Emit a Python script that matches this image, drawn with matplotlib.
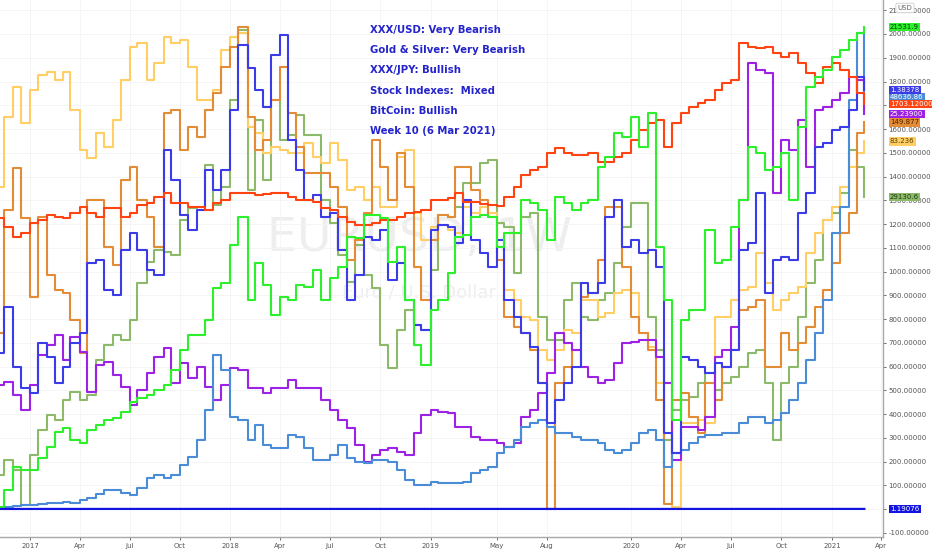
import matplotlib
matplotlib.use("Agg")
import matplotlib.pyplot as plt
import matplotlib.transforms as mtransforms
import pandas as pd

dates = list(pd.date_range("2016-11-01", "2021-02-15", freq="SMS")) + [pd.Timestamp("2021-03-01")]
months = pd.date_range("2016-11-01", "2021-03-01", freq="MS")

# every series except EURUSD is rescaled onto the EURUSD price axis
gbpusd = [657, 850, 598, 509, 488, 699, 640, 530, 598, 699, 741, 1036, 1048, 922,
          901, 1090, 1162, 1090, 1006, 985, 1511, 1385, 1238, 1175, 1259, 1427, 1343, 1427,
          1680, 1953, 1857, 1764, 1692, 1911, 1996, 1553, 1427, 1301, 1322, 1229,
          1246, 1090, 880, 985, 1145, 1132, 1175, 964, 1036, 880, 775, 754, 1175, 1196,
          1187, 1120, 1301, 1132, 1078, 1019, 1132, 880, 808, 741, 682, 530, 362, 459,
          530, 598, 951, 909, 951, 1229, 1301, 1103, 1132, 1078, 1090, 1019,
          320, 236, 640, 627, 598, 573, 615, 598, 669, 1090, 1120, 1330, 909, 1048,
          1061, 1048, 1246, 1330, 1524, 1541, 1596, 1608, 1680, 1819, 1764]
bitcoin = [4, 8, 13, 17, 17, 21, 25, 25, 29, 25, 38, 46, 63, 80,
           80, 67, 59, 88, 131, 143, 131, 143, 185, 219, 290, 417, 648, 585,
           387, 375, 290, 354, 269, 257, 257, 312, 303, 257, 206, 206,
           227, 269, 215, 198, 194, 206, 206, 198, 164, 122, 101, 101, 114, 109,
           109, 109, 114, 152, 164, 177, 236, 261, 290, 345, 362, 375, 345, 320,
           320, 303, 290, 290, 278, 248, 236, 248, 278, 320, 333, 290,
           177, 236, 248, 278, 303, 312, 312, 320, 320, 362, 387, 387, 362, 375,
           404, 459, 530, 627, 741, 880, 1162, 1271, 1722, 2004, 1735]
gold = [1225, 1187, 1145, 1162, 1204, 1217, 1238, 1229, 1225, 1246, 1271, 1246, 1229, 1267,
        1267, 1229, 1246, 1280, 1288, 1314, 1330, 1288, 1288, 1271, 1271, 1259, 1288, 1301,
        1330, 1330, 1330, 1322, 1326, 1330, 1330, 1314, 1301, 1301, 1292, 1267,
        1259, 1229, 1208, 1196, 1196, 1204, 1217, 1217, 1229, 1246, 1250, 1259, 1301, 1301,
        1309, 1330, 1292, 1292, 1284, 1280, 1276, 1314, 1356, 1406, 1427, 1440, 1499, 1520,
        1499, 1490, 1490, 1499, 1461, 1461, 1482, 1499, 1553, 1596, 1625, 1638,
        1524, 1625, 1667, 1692, 1709, 1722, 1764, 1793, 1806, 1962, 1945, 1941, 1945, 1920,
        1903, 1920, 1878, 1836, 1793, 1861, 1878, 1848, 1819, 1751, 1705]
silver = [522, 535, 480, 417, 522, 648, 690, 733, 627, 724, 661, 493, 606, 619,
          564, 514, 438, 501, 573, 640, 678, 530, 615, 552, 598, 514, 459, 522,
          594, 585, 509, 509, 488, 509, 509, 543, 509, 509, 509, 459,
          417, 375, 341, 269, 198, 227, 248, 257, 240, 227, 320, 396, 417, 408,
          404, 345, 345, 303, 290, 290, 278, 261, 278, 387, 417, 488, 573, 741,
          699, 669, 598, 556, 530, 543, 615, 699, 703, 711, 711, 640,
          530, 206, 345, 345, 333, 387, 640, 669, 766, 1301, 1878, 1848, 1836, 1330,
          1553, 1511, 1638, 1440, 1680, 1692, 1722, 1751, 1819, 1806, 1663]
gbpjpy = [741, 1259, 1436, 1225, 893, 1229, 985, 922, 909, 796, 657, 1301, 1301, 1103,
          1027, 1385, 1440, 1301, 1229, 1103, 1667, 1680, 1511, 1608, 1566, 1680, 1751, 1861,
          1945, 2029, 1650, 1511, 1553, 1722, 1861, 1667, 1524, 1415, 1415, 1415,
          1356, 1271, 1048, 1132, 1246, 1553, 1440, 1301, 1499, 1356, 1019, 880, 1132, 1238,
          1229, 1440, 1440, 1343, 1301, 1229, 1048, 808, 766, 741, 669, 530, 0, 530,
          598, 669, 893, 909, 1048, 1271, 1271, 1019, 808, 741, 669, 459,
          20, 459, 488, 387, 320, 530, 459, 598, 669, 838, 850, 880, 598, 598,
          741, 669, 699, 766, 850, 922, 1036, 1162, 1246, 1583, 1629]
audjpy = [1356, 1650, 1777, 1625, 1764, 1827, 1840, 1806, 1840, 1680, 1511, 1478, 1583, 1524,
          1638, 1806, 1945, 1962, 1806, 1878, 1987, 1962, 1974, 1861, 1722, 1722, 1764, 1932,
          1987, 2004, 1608, 1583, 1499, 1524, 1511, 1499, 1499, 1541, 1482, 1457,
          1541, 1469, 1343, 1356, 1301, 1356, 1271, 1271, 1482, 1511, 1246, 1132, 1187, 1196,
          1175, 1162, 1271, 1246, 1271, 1246, 1048, 922, 880, 808, 796, 669, 627, 669,
          754, 741, 880, 880, 808, 825, 909, 922, 909, 741, 682, 530,
          177, 10, 362, 362, 375, 362, 808, 808, 880, 922, 935, 1078, 951, 838,
          880, 909, 935, 1078, 1162, 1217, 1271, 1356, 1440, 1499, 1549]
china_a50 = [8, 80, 177, 164, 164, 215, 261, 324, 341, 290, 278, 333, 354, 375,
             383, 408, 450, 467, 480, 501, 522, 585, 669, 733, 733, 796, 930, 951,
             1111, 1229, 880, 1036, 943, 817, 893, 880, 943, 935, 1006, 880,
             973, 1019, 1145, 1141, 1238, 1238, 1225, 1040, 1103, 880, 690, 606, 838, 880,
             994, 1145, 1154, 1229, 1238, 1229, 1103, 1162, 1162, 1301, 1288, 1259, 1132, 1314,
             1288, 1259, 1288, 1301, 1440, 1482, 1583, 1566, 1650, 1524, 1667, 1103,
             880, 375, 796, 838, 838, 1175, 1036, 1048, 1187, 1301, 1524, 1499, 1427, 1440,
             1499, 1301, 1608, 1777, 1819, 1848, 1903, 1932, 1974, 2004, 2029]
nikkei = [143, 206, 164, 17, 227, 333, 396, 375, 459, 493, 459, 480, 627, 690,
          733, 711, 796, 951, 1040, 1090, 1082, 1069, 1217, 1267, 1271, 1448, 1280, 1356,
          1722, 2017, 1343, 1638, 1385, 1722, 1553, 1575, 1659, 1575, 1575, 1301,
          1204, 1069, 956, 1111, 985, 930, 690, 594, 754, 838, 775, 754, 1006, 1238,
          1229, 1271, 1372, 1372, 1457, 1469, 1204, 1187, 994, 1229, 1246, 808, 711, 711,
          880, 951, 808, 796, 880, 909, 1036, 1187, 1288, 1288, 808, 669,
          290, 417, 459, 472, 530, 573, 501, 530, 556, 598, 657, 669, 530, 290,
          530, 598, 808, 951, 1048, 1217, 1246, 1330, 1511, 1440, 1314]
eurusd = [1.06, 1.05, 1.08, 1.06, 1.08, 1.09, 1.12, 1.14, 1.18, 1.19, 1.18, 1.16, 1.19, 1.20,
          1.24, 1.22, 1.23, 1.21, 1.17, 1.17, 1.17, 1.16, 1.16, 1.13, 1.13, 1.15,
          1.15, 1.14, 1.12, 1.12, 1.12, 1.14, 1.11, 1.10, 1.09, 1.12, 1.10, 1.12,
          1.11, 1.10, 1.10, 1.09, 1.11, 1.12, 1.18, 1.19, 1.17, 1.16, 1.19, 1.22,
          1.21, 1.21, 1.19]

series = [
    (nikkei, "#8dba6a", "29130.6", "#1e3a10"),
    (audjpy, "#ffcf66", "83.236", "#5a3d00"),
    (gbpjpy, "#e38b35", "149.877", "#4a2400"),
    (silver, "#9d22e6", "25.23900", "white"),
    (bitcoin, "#4a8cd8", "48636.86", "white"),
    (gbpusd, "#3b3be8", "1.38378", "white"),
    (gold, "#ff4411", "1703.12000", "white"),
    (china_a50, "#2bf02b", "21531.9", "#0b3d0b"),
]

x_ticks = ["2017-01-01", "2017-04-01", "2017-07-01", "2017-10-01", "2018-01-01",
           "2018-04-01", "2018-07-01", "2018-10-01", "2019-01-01", "2019-05-01",
           "2019-08-01", "2020-01-01", "2020-04-01", "2020-07-01", "2020-10-01",
           "2021-01-01", "2021-04-01"]
x_labels = ["2017", "Apr", "Jul", "Oct", "2018", "Apr", "Jul", "Oct", "2019", "May",
            "Aug", "2020", "Apr", "Jul", "Oct", "2021", "Apr"]

notes = ["XXX/USD: Very Bearish", "Gold & Silver: Very Bearish", "XXX/JPY: Bullish",
         "Stock Indexes:  Mixed", "BitCoin: Bullish", "Week 10 (6 Mar 2021)"]

fig = plt.figure(figsize=(9.32, 5.5), dpi=100)
ax = fig.add_axes([0, 13 / 550, 883 / 932, 537 / 550])

# watermark
ax.text(0.475, 0.555, "EURUSD, 1W", transform=ax.transAxes, ha="center", va="center",
        fontsize=34, color="#eeeeee", zorder=0)
ax.text(0.475, 0.455, "Euro / U.S. Dollar", transform=ax.transAxes, ha="center", va="center",
        fontsize=13, color="#eeeeee", zorder=0)

for vals, col, lab, tcol in series:
    ax.step(dates, vals, where="post", color=col, lw=1.5, zorder=3)

ax.plot(months, eurusd, color="#1414e0", lw=1.6, zorder=4)

ax.set_xlim(pd.Timestamp("2016-11-07"), pd.Timestamp("2021-04-04"))
ax.set_ylim(-117, 2143)

ax.yaxis.tick_right()
yt = list(range(-100, 2101, 100))
ax.set_yticks(yt)
ax.set_yticklabels([f"{v:.5f}" for v in yt])
ax.set_xticks(pd.to_datetime(x_ticks))
ax.set_xticklabels(x_labels)
ax.tick_params(axis="both", labelsize=5, colors="#555555", length=2, width=0.6, pad=2)
ax.grid(True, color="#f4f4f4", lw=0.6, zorder=0)

for s in ["top", "left"]:
    ax.spines[s].set_visible(False)
for s in ["right", "bottom"]:
    ax.spines[s].set_color("#a8a8a8")
    ax.spines[s].set_linewidth(1.0)

# last value tags on the price scale
trans = mtransforms.blended_transform_factory(ax.transAxes, ax.transData)
for vals, col, lab, tcol in series:
    ax.annotate(lab, xy=(1, vals[-1]), xycoords=trans, xytext=(5, 0), textcoords="offset points",
                ha="left", va="center", fontsize=5, color=tcol, annotation_clip=False,
                bbox=dict(boxstyle="square,pad=0.2", fc=col, ec="none"), zorder=6)
ax.annotate("1.19076", xy=(1, eurusd[-1]), xycoords=trans, xytext=(5, 0),
            textcoords="offset points", ha="left", va="center", fontsize=5, color="white",
            annotation_clip=False, bbox=dict(boxstyle="square,pad=0.2", fc="#1414e0", ec="none"))

fig.text(905 / 932, 1 - 8 / 550, "USD", fontsize=5, color="#666666", ha="center", va="center",
         bbox=dict(boxstyle="round,pad=0.25", fc="white", ec="#cccccc", lw=0.6))

for i, t in enumerate(notes):
    fig.text(370 / 932, 1 - (30 + i * 20.2) / 550, t, fontsize=7.3, fontweight="bold",
             color="#2424cc", ha="left", va="center")

fig.savefig("out.png", dpi=100)
